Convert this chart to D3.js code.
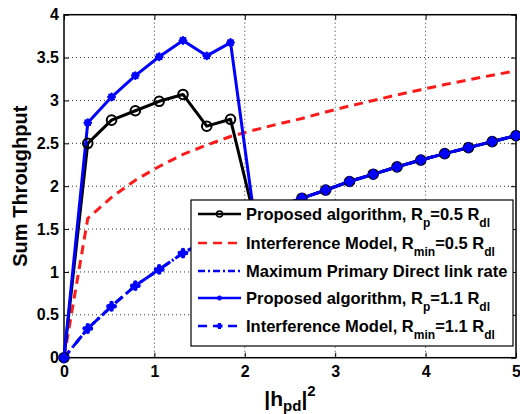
<!DOCTYPE html>
<html>
<head>
<meta charset="utf-8">
<script src="https://cdn.jsdelivr.net/npm/d3@7"></script>
<style>
  body { margin: 0; background: #fff; }
  text { font-family: "Liberation Sans", Arial, Helvetica, sans-serif; font-weight: bold; }
</style>
</head>
<body>
<div id="main"></div>
<script>
/* data */
const hpd = [0, 0.263, 0.526, 0.789, 1.053, 1.316, 1.579, 1.842, 2.105, 2.368,
  2.632, 2.895, 3.158, 3.421, 3.684, 3.947, 4.211, 4.474, 4.737, 5];
const proposed05 = [0, 2.50, 2.77, 2.88, 2.99, 3.07, 2.70, 2.78, 1.64, 1.76,
  1.86, 1.955, 2.055, 2.14, 2.225, 2.305, 2.38, 2.45, 2.52, 2.59];
const interf05 = [0, 1.625, 1.87, 2.07, 2.23, 2.37, 2.48, 2.58, 2.655, 2.725,
  2.79, 2.865, 2.935, 3.0, 3.065, 3.125, 3.185, 3.24, 3.295, 3.345];
const maxDirect = [0, 0.34, 0.60, 0.84, 1.03, 1.22, 1.37, 1.51, 1.64, 1.76,
  1.86, 1.955, 2.055, 2.14, 2.225, 2.305, 2.38, 2.45, 2.52, 2.59];
const proposed11 = [0, 2.74, 3.04, 3.29, 3.51, 3.70, 3.52, 3.675, 1.64, 1.76,
  1.86, 1.955, 2.055, 2.14, 2.225, 2.305, 2.38, 2.45, 2.52, 2.59];
const interf11 = [0, 0.34, 0.60, 0.84, 1.03, 1.22, 1.37, 1.51, 1.64, 1.76,
  1.86, 1.955, 2.055, 2.14, 2.225, 2.305, 2.38, 2.45, 2.52, 2.59];
const xTicks = [0, 1, 2, 3, 4, 5];
const yTicks = [0, 0.5, 1, 1.5, 2, 2.5, 3, 3.5, 4];

/* layout */
const svgWidth = 520;
const svgHeight = 414;
const plot = { l: 64, r: 516, t: 14.7, b: 357.7 };

const svg = d3.select('#main').append('svg')
  .attr('width', svgWidth)
  .attr('height', svgHeight);

const x = d3.scaleLinear().domain([0, 5]).range([plot.l, plot.r]);
const y = d3.scaleLinear().domain([0, 4]).range([plot.b, plot.t]);

// grid
const grid = svg.append('g').attr('class', 'grid')
  .attr('stroke', '#333').attr('stroke-width', 1).attr('stroke-dasharray', '1,3');
grid.selectAll('.gx').data(xTicks.slice(1, -1)).enter().append('line')
  .attr('x1', d => x(d)).attr('x2', d => x(d))
  .attr('y1', plot.t).attr('y2', plot.b);
grid.selectAll('.gy').data(yTicks.slice(1, -1)).enter().append('line')
  .attr('x1', plot.l).attr('x2', plot.r)
  .attr('y1', d => y(d)).attr('y2', d => y(d));

// axes (ticks pointing inward, like matlab)
function styleAxis(g) {
  g.select('.domain').remove();
  g.selectAll('.tick line').attr('stroke', '#000').attr('stroke-width', 1);
  g.selectAll('.tick text').attr('fill', '#000').style('font-size', '16px');
}
svg.append('g').attr('transform', `translate(0,${plot.b})`)
  .call(d3.axisBottom(x).tickValues(xTicks).tickFormat(d3.format('d')).tickSize(-5).tickPadding(8))
  .call(styleAxis);
svg.append('g').attr('transform', `translate(${plot.l},0)`)
  .call(d3.axisLeft(y).tickValues(yTicks).tickFormat(d => d).tickSize(-5).tickPadding(5))
  .call(styleAxis);
svg.append('g').attr('transform', `translate(0,${plot.t})`)
  .call(d3.axisTop(x).tickValues(xTicks).tickFormat('').tickSize(-5))
  .call(styleAxis);
svg.append('g').attr('transform', `translate(${plot.r},0)`)
  .call(d3.axisRight(y).tickValues(yTicks).tickFormat('').tickSize(-5))
  .call(styleAxis);

svg.append('rect')
  .attr('x', plot.l).attr('y', plot.t)
  .attr('width', plot.r - plot.l).attr('height', plot.b - plot.t)
  .attr('fill', 'none').attr('stroke', '#000').attr('stroke-width', 1.5);

// series
const line = d3.line().x((d, i) => x(hpd[i])).y(d => y(d));
const series = [
  { name: 'interf05', values: interf05, color: '#ff1a1a', dash: '9,6' },
  { name: 'interf11', values: interf11, color: '#0000ff', dash: '9,6' },
  { name: 'maxDirect', values: maxDirect, color: '#0000ff', dash: '9,4,2,4' },
  { name: 'proposed05', values: proposed05, color: '#000', dash: null },
  { name: 'proposed11', values: proposed11, color: '#0000ff', dash: null }
];
const lines = svg.append('g').attr('class', 'lines');
series.forEach(s => {
  lines.append('path')
    .datum(s.values)
    .attr('d', line)
    .attr('fill', 'none')
    .attr('stroke', s.color)
    .attr('stroke-width', 3)
    .attr('stroke-linejoin', 'round')
    .attr('stroke-dasharray', s.dash);
});

// markers
const starPath = r => `M${-r},0H${r}M0,${-r}V${r}M${-r * 0.7},${-r * 0.7}L${r * 0.7},${r * 0.7}M${-r * 0.7},${r * 0.7}L${r * 0.7},${-r * 0.7}`;
const plusPath = r => `M${-r},0H${r}M0,${-r}V${r}`;

const markers = svg.append('g').attr('class', 'markers');
markers.selectAll('.circ').data(proposed05).enter().append('circle')
  .attr('cx', (d, i) => x(hpd[i])).attr('cy', d => y(d)).attr('r', 4.8)
  .attr('fill', 'none').attr('stroke', '#000').attr('stroke-width', 2);
markers.selectAll('.plus').data(interf11).enter().append('path')
  .attr('transform', (d, i) => `translate(${x(hpd[i])},${y(d)})`)
  .attr('d', plusPath(3.2))
  .attr('stroke', '#0000ff').attr('stroke-width', 4.5).attr('stroke-linecap', 'round');
markers.selectAll('.star').data(proposed11).enter().append('path')
  .attr('transform', (d, i) => `translate(${x(hpd[i])},${y(d)})`)
  .attr('d', starPath(3.2))
  .attr('stroke', '#0000ff').attr('stroke-width', 2.5).attr('stroke-linecap', 'round');

// axis labels
svg.append('text')
  .attr('transform', `translate(27,${(plot.t + plot.b) / 2}) rotate(-90)`)
  .attr('text-anchor', 'middle')
  .style('font-size', '20px')
  .text('Sum Throughput');

const xl = svg.append('text')
  .attr('x', (plot.l + plot.r) / 2).attr('y', 406)
  .attr('text-anchor', 'middle')
  .style('font-size', '21px');
xl.append('tspan').text('|h');
xl.append('tspan').attr('dy', 5).style('font-size', '15px').text('pd');
xl.append('tspan').attr('dy', -5).text('|');
xl.append('tspan').attr('dy', -10).style('font-size', '15px').text('2');

// legend
const legendItems = [
  { s: 'proposed05', parts: ['Proposed algorithm, R', 'p', '=0.5 R', 'dl'], marker: 'circle' },
  { s: 'interf05', parts: ['Interference Model, R', 'min', '=0.5 R', 'dl'], marker: null },
  { s: 'maxDirect', parts: ['Maximum Primary Direct link rate'], marker: null },
  { s: 'proposed11', parts: ['Proposed algorithm, R', 'p', '=1.1 R', 'dl'], marker: 'star' },
  { s: 'interf11', parts: ['Interference Model, R', 'min', '=1.1 R', 'dl'], marker: 'plus' }
];
const legendRows = [214, 243, 271, 298, 326];

const legend = svg.append('g').attr('class', 'legend');
legend.append('rect')
  .attr('x', 191).attr('y', 200).attr('width', 322).attr('height', 146)
  .attr('fill', '#fff').attr('stroke', '#000').attr('stroke-width', 1.2);

legendItems.forEach((item, i) => {
  const s = series.find(d => d.name === item.s);
  const ly = legendRows[i];
  legend.append('line')
    .attr('x1', 198).attr('x2', 241).attr('y1', ly).attr('y2', ly)
    .attr('stroke', s.color).attr('stroke-width', 2.5)
    .attr('stroke-dasharray', s.dash ? (item.s === 'maxDirect' ? '7,3,2,3' : '9,6') : null);
  if (item.marker === 'circle') {
    legend.append('circle').attr('cx', 219.5).attr('cy', ly).attr('r', 3)
      .attr('fill', 'none').attr('stroke', '#000').attr('stroke-width', 1.5);
  } else if (item.marker === 'star') {
    legend.append('path').attr('transform', `translate(219.5,${ly})`).attr('d', starPath(2.5))
      .attr('stroke', s.color).attr('stroke-width', 1.5);
  } else if (item.marker === 'plus') {
    legend.append('path').attr('transform', `translate(219.5,${ly})`).attr('d', plusPath(3))
      .attr('stroke', s.color).attr('stroke-width', 3);
  }
  const t = legend.append('text').attr('x', 246).attr('y', ly + 5.5).style('font-size', '16.5px');
  item.parts.forEach((p, j) => {
    const isSub = j % 2 === 1;
    const ts = t.append('tspan').text(p);
    if (isSub) ts.attr('dy', 7).style('font-size', '12px');
    else if (j > 0) ts.attr('dy', -7);
  });
});
</script>
</body>
</html>
